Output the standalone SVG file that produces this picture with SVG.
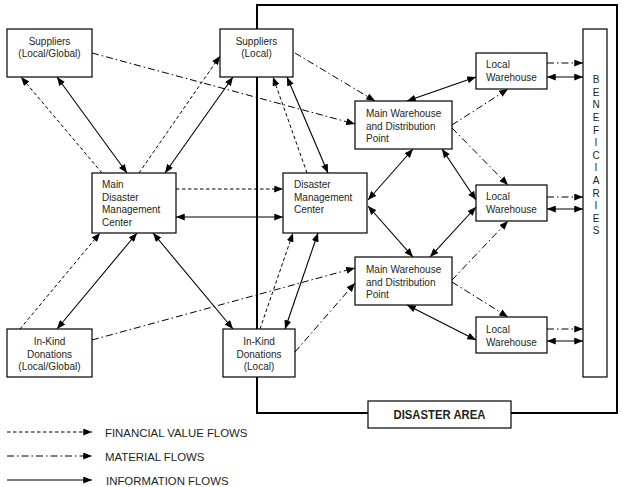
<svg xmlns="http://www.w3.org/2000/svg" width="623" height="487" viewBox="0 0 623 487">
<defs>
<marker id="ah" viewBox="0 0 10 8" refX="10" refY="4" markerWidth="9" markerHeight="7" markerUnits="userSpaceOnUse" orient="auto-start-reverse"><path d="M0,0 L10,4 L0,8 z" fill="#000"/></marker>
<style>
.box{fill:#fff;stroke:#000;stroke-width:1.2}
.t{font-family:"Liberation Sans",Arial,sans-serif;font-size:10px;fill:#231f20}
.c{text-anchor:middle}
.fin{fill:none;stroke:#000;stroke-width:1;stroke-dasharray:3.5 2.5;marker-end:url(#ah)}
.mat{fill:none;stroke:#000;stroke-width:1;stroke-dasharray:7 3 1.5 3;marker-end:url(#ah)}
.inf{fill:none;stroke:#000;stroke-width:1.1;marker-end:url(#ah)}
.inf2{fill:none;stroke:#000;stroke-width:1.1;marker-end:url(#ah);marker-start:url(#ah)}
.leg{font-family:"Liberation Sans",Arial,sans-serif;font-size:11.4px;fill:#231f20}
</style>
</defs>
<rect width="623" height="487" fill="#fff"/>
<g id="disaster-area">
<rect x="257" y="5" width="360" height="408" fill="none" stroke="#000" stroke-width="2"/>
</g>
<g id="connectors">
<path class="fin" d="M102,173 L21,77"/>
<path class="fin" d="M139,173 L220,56"/>
<path class="fin" d="M307,173 L273,77"/>
<path class="fin" d="M176,189 L283,189"/>
<path class="fin" d="M20,329 L100,233"/>
<path class="fin" d="M260,329 L293,233"/>
<path class="inf2" d="M57,77 L127,173"/>
<path class="inf2" d="M165,173 L233,77"/>
<path class="inf2" d="M287,77 L328,173"/>
<path class="inf2" d="M176,217 L283,217"/>
<path class="inf2" d="M57,329 L137,233"/>
<path class="inf2" d="M153,233 L233,329"/>
<path class="inf2" d="M285,329 L318,233"/>
<path class="inf2" d="M407,101 L476,77"/>
<path class="inf2" d="M413,149 L368,200"/>
<path class="inf2" d="M442,149 L476,200"/>
<path class="inf2" d="M368,206 L413,257"/>
<path class="inf2" d="M476,207 L430,257"/>
<path class="inf2" d="M407,305 L476,340"/>
<path class="inf2" d="M547,77 L583,77"/>
<path class="inf2" d="M547,209 L583,209"/>
<path class="inf2" d="M547,341 L583,341"/>
<path class="mat" d="M92,53 L355,124"/>
<path class="mat" d="M295,53 L375,101"/>
<path class="mat" d="M92,340 L355,268"/>
<path class="mat" d="M295,352 L355,283"/>
<path class="mat" d="M452,125 L508,89"/>
<path class="mat" d="M452,128 L508,185"/>
<path class="mat" d="M452,280 L508,221"/>
<path class="mat" d="M452,282 L508,317"/>
<path class="mat" d="M547,63 L583,63"/>
<path class="mat" d="M547,197 L583,197"/>
<path class="mat" d="M547,329 L583,329"/>
</g>
<g id="suppliers-global">
<rect class="box" x="7" y="29" width="85" height="48"/>
<text class="t c" x="49.5" y="45">Suppliers</text>
<text class="t c" x="49.5" y="57">(Local/Global)</text>
</g>
<g id="suppliers-local">
<rect class="box" x="220" y="29" width="73" height="48"/>
<text class="t c" x="256.5" y="45">Suppliers</text>
<text class="t c" x="256.5" y="57">(Local)</text>
</g>
<g id="main-dmc">
<rect class="box" x="92" y="173" width="84" height="60"/>
<text class="t" x="102" y="188">Main</text>
<text class="t" x="102" y="201">Disaster</text>
<text class="t" x="102" y="213">Management</text>
<text class="t" x="102" y="226">Center</text>
</g>
<g id="dmc">
<rect class="box" x="283" y="173" width="84" height="60"/>
<text class="t" x="294" y="188">Disaster</text>
<text class="t" x="294" y="201">Management</text>
<text class="t" x="294" y="213">Center</text>
</g>
<g id="inkind-global">
<rect class="box" x="7" y="329" width="85" height="48"/>
<text class="t c" x="49.5" y="345">In-Kind</text>
<text class="t c" x="49.5" y="358">Donations</text>
<text class="t c" x="49.5" y="370">(Local/Global)</text>
</g>
<g id="inkind-local">
<rect class="box" x="223" y="329" width="72" height="48"/>
<text class="t c" x="259" y="345">In-Kind</text>
<text class="t c" x="259" y="358">Donations</text>
<text class="t c" x="259" y="370">(Local)</text>
</g>
<g id="main-warehouse-1">
<rect class="box" x="355" y="101" width="97" height="48"/>
<text class="t" x="366" y="117">Main Warehouse</text>
<text class="t" x="366" y="130">and Distribution</text>
<text class="t" x="366" y="142">Point</text>
</g>
<g id="main-warehouse-2">
<rect class="box" x="355" y="257" width="97" height="48"/>
<text class="t" x="366" y="273">Main Warehouse</text>
<text class="t" x="366" y="286">and Distribution</text>
<text class="t" x="366" y="298">Point</text>
</g>
<g id="local-warehouse-1">
<rect class="box" x="476" y="53" width="71" height="36"/>
<text class="t" x="486" y="68">Local</text>
<text class="t" x="486" y="81">Warehouse</text>
</g>
<g id="local-warehouse-2">
<rect class="box" x="476" y="185" width="71" height="36"/>
<text class="t" x="486" y="200">Local</text>
<text class="t" x="486" y="213">Warehouse</text>
</g>
<g id="local-warehouse-3">
<rect class="box" x="476" y="317" width="71" height="36"/>
<text class="t" x="486" y="333">Local</text>
<text class="t" x="486" y="346">Warehouse</text>
</g>
<g id="beneficiaries">
<rect class="box" x="583" y="29" width="24" height="348"/>
<text class="t c" x="596" y="83">B</text>
<text class="t c" x="596" y="96">E</text>
<text class="t c" x="596" y="108">N</text>
<text class="t c" x="596" y="121">E</text>
<text class="t c" x="596" y="134">F</text>
<text class="t c" x="596" y="146">I</text>
<text class="t c" x="596" y="159">C</text>
<text class="t c" x="596" y="171">I</text>
<text class="t c" x="596" y="184">A</text>
<text class="t c" x="596" y="197">R</text>
<text class="t c" x="596" y="209">I</text>
<text class="t c" x="596" y="222">E</text>
<text class="t c" x="596" y="234">S</text>
</g>
<g id="disaster-area-label">
<rect class="box" x="368" y="401" width="143" height="27" stroke-width="1.3"/>
<text x="439.5" y="419" text-anchor="middle" font-family="'Liberation Sans',Arial,sans-serif" font-size="12" font-weight="bold" fill="#231f20" textLength="92" lengthAdjust="spacingAndGlyphs">DISASTER AREA</text>
</g>
<g id="legend">
<path class="fin" d="M7,432 L92,432"/>
<text class="leg" x="105" y="437">FINANCIAL VALUE FLOWS</text>
<path class="mat" d="M7,456 L92,456"/>
<text class="leg" x="105" y="461">MATERIAL FLOWS</text>
<path class="inf" d="M7,480 L92,480"/>
<text class="leg" x="106" y="485">INFORMATION FLOWS</text>
</g>
</svg>
